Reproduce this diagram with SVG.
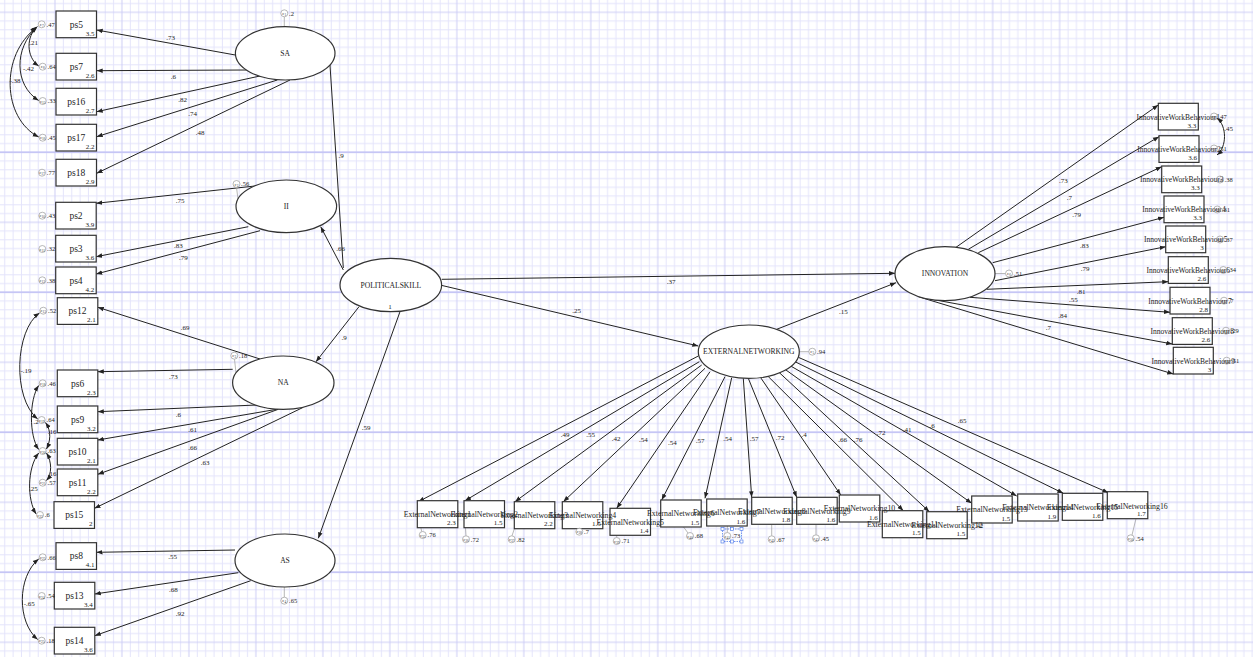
<svg xmlns="http://www.w3.org/2000/svg" width="1253" height="657" viewBox="0 0 1253 657">
<defs>
<style>
.t{font-family:"Liberation Serif","DejaVu Serif",serif;fill:#222}
.lab{font-size:9.5px;text-anchor:middle}
.val{font-size:7px;text-anchor:end}
.co{font-size:7px;text-anchor:middle}
.lat{font-size:7.6px;text-anchor:middle}
.obs{font-size:7.8px;text-anchor:middle}
.iwb{font-size:7.5px;text-anchor:middle}
.ev{font-size:6.5px}
.eps{font-size:5px;text-anchor:middle;fill:#444}
.bx{fill:#fff;stroke:#333;stroke-width:1.2}
.bxo{fill:none;stroke:#333;stroke-width:1.2}
.pl{fill:#fff;stroke:none}
.el{fill:#fff;stroke:#333;stroke-width:1.2}
.ec{fill:#fff;stroke:#999;stroke-width:0.7}
.ect{fill:none;stroke:#999;stroke-width:0.7}
.eline{stroke:#999;stroke-width:0.7;fill:none}
.ln{stroke:#222;stroke-width:1;fill:none;marker-end:url(#a)}
.cv{stroke:#222;stroke-width:1;fill:none;marker-start:url(#a);marker-end:url(#a)}
.gmin{stroke:#e4e4fb;stroke-width:1}
.gmaj{stroke:#cdcdf6;stroke-width:1}
</style>
<marker id="a" viewBox="0 0 10 10" refX="10" refY="5" markerWidth="6" markerHeight="6" markerUnits="userSpaceOnUse" orient="auto-start-reverse"><path d="M0,1.2 L10,5 L0,8.8 z" fill="#222"/></marker>
<pattern id="grid" patternUnits="userSpaceOnUse" x="54.95" y="12.3" width="66.98" height="70">
<path class="gmin" d="M8.37,0V70M16.75,0V70M25.12,0V70M33.49,0V70M41.86,0V70M50.24,0V70M58.61,0V70M0,8.75H66.98M0,17.5H66.98M0,26.25H66.98M0,35H66.98M0,43.75H66.98M0,52.5H66.98M0,61.25H66.98"/>
<path class="gmaj" d="M0,0V70M66.98,0V70M0,0H66.98M0,70H66.98"/>
</pattern>
</defs>
<rect width="1253" height="657" fill="#fff"/>
<rect width="1253" height="657" fill="url(#grid)"/>
<path d="M0,152.3H1253M0,292.3H1253M0,432.3H1253M0,572.3H1253" stroke="#c6c6f5" stroke-width="1.4"/>

<g id="connectors">
<path class="ln" d="M235.3,55 L96.7,30"/>
<path class="ln" d="M246.4,70 L96.7,70.7"/>
<path class="ln" d="M260,76 L96.7,111.7"/>
<path class="ln" d="M277.3,80 L96.7,136.7"/>
<path class="ln" d="M290,80 L96.7,173.3"/>
<path class="ln" d="M255,186 L96.2,203.3"/>
<path class="ln" d="M248.3,226.7 L96.2,256.7"/>
<path class="ln" d="M260,230.7 L96.2,274"/>
<path class="ln" d="M260,359 L97.8,307.3"/>
<path class="ln" d="M232.7,369.3 L97.8,371.7"/>
<path class="ln" d="M256.7,405 L97.8,411.7"/>
<path class="ln" d="M276.7,409.3 L97.8,440"/>
<path class="ln" d="M278.3,409.3 L97.8,474.3"/>
<path class="ln" d="M303.3,407.3 L94.5,508.3"/>
<path class="ln" d="M235,550 L96.5,552.3"/>
<path class="ln" d="M238.3,572.7 L94.8,594"/>
<path class="ln" d="M250.7,580.7 L94.8,635.7"/>
<path class="ln" d="M343.3,268 L328.3,39.3"/>
<path class="ln" d="M343.3,270 L320.7,226.7"/>
<path class="ln" d="M359,306.7 L316,361.7"/>
<path class="ln" d="M400,311.7 L318.3,538.3"/>
<path class="ln" d="M441.7,279.3 L895,273.3"/>
<path class="ln" d="M440,285 L698.3,346"/>
<path class="ln" d="M776.7,329.3 L896,282.7"/>
<path class="ln" d="M956,247.3 L1158.3,105"/>
<path class="ln" d="M968.3,249.3 L1159,136.7"/>
<path class="ln" d="M978.3,252.7 L1161.7,166.7"/>
<path class="ln" d="M992.7,262.7 L1164,217.3"/>
<path class="ln" d="M995,280.7 L1165.7,246.7"/>
<path class="ln" d="M986.7,289.3 L1168.3,281.7"/>
<path class="ln" d="M970,297.3 L1170,312.3"/>
<path class="ln" d="M926.7,298.3 L1172.3,344"/>
<path class="ln" d="M918.3,296.7 L1173.3,374"/>
<path class="ln" d="M698.3,356 L418.3,501.7"/>
<path class="ln" d="M699.3,361.7 L465,500.7"/>
<path class="ln" d="M701.7,365 L515,501.7"/>
<path class="ln" d="M705,368.3 L563.3,501.7"/>
<path class="ln" d="M710,371.7 L616.7,508.3"/>
<path class="ln" d="M725,376.7 L661.7,500"/>
<path class="ln" d="M731.7,377.7 L705,498.3"/>
<path class="ln" d="M743.3,378.3 L751.7,497.3"/>
<path class="ln" d="M748.3,378.3 L796.7,497.3"/>
<path class="ln" d="M760,376.7 L840.7,495"/>
<path class="ln" d="M766.7,375 L903.3,510.7"/>
<path class="ln" d="M778.3,371.7 L929.3,511.7"/>
<path class="ln" d="M785,369.3 L971.7,503.3"/>
<path class="ln" d="M790.7,366 L1016.7,496"/>
<path class="ln" d="M795,361.7 L1063.3,493.3"/>
<path class="ln" d="M798.3,357.3 L1108.3,492.7"/>
<path class="cv" d="M37.5,26.5 C26,36 26,57 38.7,66"/>
<path class="cv" d="M37,27 C14,48 14,85 38.7,100.5"/>
<path class="cv" d="M36.5,27.5 C0,55 2,118 38.7,137"/>
<path class="cv" d="M39.5,313 C15,330 12,398 37.7,419"/>
<path class="cv" d="M38.7,385.5 C29,400 29,436 38.7,449.5"/>
<path class="cv" d="M45.5,422.5 C52,432 50,442 46.5,449"/>
<path class="cv" d="M46.5,453 C52,462 52,474 46.5,480.5"/>
<path class="cv" d="M38.7,453 C27,468 27,500 36.2,514"/>
<path class="cv" d="M38.7,559 C17,577 17,622 37.7,639.5"/>
<path class="cv" d="M1217,118 C1227,126 1227,147 1217,155"/>
<path class="eline" d="M284.3,16.8V26.7M236.5,187.5L238,199M234.5,359.2L236,373M284.3,587V597.2M799.3,351.7H808.8M995,273.5H1005.5M418.3,515L421.7,531.7M465,520L466,535.8M514.5,528.3L512,535.8M616.7,535V537.5M683.3,526.7L688,533M727.3,526V532.5M771.7,524.3V535.8M816,524.3V534.8M1138.3,509.3L1132,535"/>
</g>

<g id="coef-labels" class="t co">
<text x="170.7" y="39.5">.73</text>
<text x="173.3" y="79">.6</text>
<text x="182.7" y="102.3">.82</text>
<text x="192.7" y="115.6">.74</text>
<text x="200" y="135">.48</text>
<text x="180" y="203">.75</text>
<text x="178.3" y="248.3">.83</text>
<text x="183.3" y="259.6">.79</text>
<text x="185" y="329.6">.69</text>
<text x="173.3" y="379">.73</text>
<text x="178.3" y="416.6">.6</text>
<text x="192.7" y="432.3">.61</text>
<text x="192.7" y="450">.66</text>
<text x="205" y="464.6">.63</text>
<text x="172.7" y="559">.55</text>
<text x="173.3" y="592.3">.68</text>
<text x="180" y="616.3">.92</text>
<text x="341" y="158.3">.9</text>
<text x="340.5" y="251.3">.66</text>
<text x="344" y="339.6">.9</text>
<text x="366" y="430.3">.59</text>
<text x="671" y="284">.37</text>
<text x="576.7" y="313.3">.25</text>
<text x="843.3" y="314">.15</text>
<text x="1063.3" y="183">.73</text>
<text x="1069.3" y="199.6">.7</text>
<text x="1076.7" y="217.3">.79</text>
<text x="1084.3" y="248.3">.83</text>
<text x="1085" y="271.3">.79</text>
<text x="1081" y="293.6">.81</text>
<text x="1073.3" y="301.6">.55</text>
<text x="1062.7" y="318">.84</text>
<text x="1048.3" y="330">.7</text>
<text x="565" y="437.3">.49</text>
<text x="590.7" y="437.3">.55</text>
<text x="616" y="440.6">.42</text>
<text x="643.3" y="441.6">.54</text>
<text x="672.3" y="444.6">.54</text>
<text x="700" y="443">.57</text>
<text x="727.7" y="441.3">.54</text>
<text x="754" y="440.6">.57</text>
<text x="780" y="439.6">.72</text>
<text x="804" y="437.3">.4</text>
<text x="842.7" y="442.3">.66</text>
<text x="858" y="442.3">.76</text>
<text x="881" y="435.3">.72</text>
<text x="907" y="431.6">.41</text>
<text x="932" y="427.6">.6</text>
<text x="962" y="423">.65</text>
<text x="33.5" y="45">.21</text>
<text x="28.5" y="71.3">-.42</text>
<text x="15" y="83.3">-.38</text>
<text x="26" y="373">-.19</text>
<text x="36" y="424">.2</text>
<text x="52" y="434">.16</text>
<text x="52" y="475.6">.16</text>
<text x="33.3" y="490.6">.25</text>
<text x="29.3" y="605.6">-.65</text>
<text x="1228.5" y="130.6">.45</text>
</g>

<g id="SA"><ellipse class="el" cx="285.2" cy="53.3" rx="49.8" ry="26.7"/><text class="t lat" x="285.2" y="56">SA</text>
<circle class="ec" cx="284.3" cy="13.3" r="3.5"/><text class="t eps" x="284.3" y="15">ε<tspan font-size="3.5" dy="1">1</tspan></text><text class="t ev" x="289" y="15.6">.2</text></g>
<g id="II"><ellipse class="el" cx="286.3" cy="206.3" rx="50.3" ry="26.3"/><text class="t lat" x="286.3" y="209">II</text>
<circle class="ec" cx="236.5" cy="184" r="3.5"/><text class="t eps" x="236.5" y="185.7">ε<tspan font-size="3.5" dy="1">2</tspan></text><text class="t ev" x="241" y="186.3">.56</text></g>
<g id="NA"><ellipse class="el" cx="283.3" cy="382.7" rx="50.7" ry="26.7"/><text class="t lat" x="283.3" y="385.4">NA</text>
<circle class="ec" cx="234.3" cy="355.7" r="3.5"/><text class="t eps" x="234.3" y="357.4">ε<tspan font-size="3.5" dy="1">3</tspan></text><text class="t ev" x="239" y="358">.18</text></g>
<g id="AS"><ellipse class="el" cx="285" cy="560.5" rx="50" ry="26.5"/><text class="t lat" x="285" y="563.2">AS</text>
<circle class="ec" cx="284.3" cy="600.7" r="3.5"/><text class="t eps" x="284.3" y="602.4">ε<tspan font-size="3.5" dy="1">4</tspan></text><text class="t ev" x="289" y="603">.65</text></g>
<g id="POLITICALSKILL"><ellipse class="el" cx="390.8" cy="285" rx="50.8" ry="26.7"/><text class="t lat" x="390.8" y="288">POLITICALSKILL</text><text class="t co" x="390" y="308.5">1</text></g>
<g id="EXTERNALNETWORKING"><ellipse class="el" cx="748.8" cy="351.7" rx="50.5" ry="26.7"/><text class="t lat" x="748.8" y="354.4">EXTERNALNETWORKING</text>
<circle class="ec" cx="812.3" cy="351.7" r="3.5"/><text class="t eps" x="812.3" y="353.4">ε<tspan font-size="3.5" dy="1">5</tspan></text><text class="t ev" x="817" y="354">.94</text></g>
<g id="INNOVATION"><ellipse class="el" cx="945" cy="273.7" rx="50" ry="27"/><text class="t lat" x="945" y="276.4">INNOVATION</text>
<circle class="ec" cx="1009" cy="273.5" r="3.5"/><text class="t eps" x="1009" y="275.2">ε<tspan font-size="3.5" dy="1">6</tspan></text><text class="t ev" x="1014" y="275.8">.51</text></g>

<g id="ps5"><rect class="bx" x="56" y="11" width="40.5" height="26.7"/><text class="t lab" x="76.3" y="27.6">ps5</text><text class="t val" x="94.5" y="35.5">3.5</text><circle class="ec" cx="41.7" cy="24.3" r="3.5"/><text class="t eps" x="41.7" y="26">ε<tspan font-size="3.5" dy="1">7</tspan></text><text class="t ev" x="46.5" y="26.6">.47</text></g>
<g id="ps7"><rect class="bx" x="56" y="53.3" width="40.5" height="26.7"/><text class="t lab" x="76.3" y="69.9">ps7</text><text class="t val" x="94.5" y="77.8">2.6</text><circle class="ec" cx="42.7" cy="66.7" r="3.5"/><text class="t eps" x="42.7" y="68.4">ε<tspan font-size="3.5" dy="1">8</tspan></text><text class="t ev" x="47.5" y="69">.64</text></g>
<g id="ps16"><rect class="bx" x="56" y="88.3" width="40.5" height="26.7"/><text class="t lab" x="76.3" y="104.9">ps16</text><text class="t val" x="94.5" y="112.8">2.7</text><circle class="ec" cx="42.7" cy="101" r="3.5"/><text class="t eps" x="42.7" y="102.7">ε<tspan font-size="3.5" dy="1">15</tspan></text><text class="t ev" x="47.5" y="103.3">.33</text></g>
<g id="ps17"><rect class="bx" x="56" y="124.3" width="40.5" height="26.7"/><text class="t lab" x="76.3" y="140.9">ps17</text><text class="t val" x="94.5" y="148.8">2.2</text><circle class="ec" cx="42.7" cy="137.7" r="3.5"/><text class="t eps" x="42.7" y="139.4">ε<tspan font-size="3.5" dy="1">16</tspan></text><text class="t ev" x="47.5" y="140">.45</text></g>
<g id="ps18"><rect class="bx" x="56" y="159.3" width="40.5" height="26.7"/><text class="t lab" x="76.3" y="175.9">ps18</text><text class="t val" x="94.5" y="183.8">2.9</text><circle class="ec" cx="42" cy="172.7" r="3.5"/><text class="t eps" x="42" y="174.4">ε<tspan font-size="3.5" dy="1">17</tspan></text><text class="t ev" x="46.8" y="175">.77</text></g>
<g id="ps2"><rect class="bx" x="55.7" y="202.3" width="40.5" height="26.7"/><text class="t lab" x="76" y="218.9">ps2</text><text class="t val" x="94.2" y="226.8">3.9</text><circle class="ec" cx="42.3" cy="215.7" r="3.5"/><text class="t eps" x="42.3" y="217.4">ε<tspan font-size="3.5" dy="1">10</tspan></text><text class="t ev" x="47" y="218">.43</text></g>
<g id="ps3"><rect class="bx" x="55.7" y="235.3" width="40.5" height="26.7"/><text class="t lab" x="76" y="251.9">ps3</text><text class="t val" x="94.2" y="259.8">3.6</text><circle class="ec" cx="42.3" cy="249" r="3.5"/><text class="t eps" x="42.3" y="250.7">ε<tspan font-size="3.5" dy="1">11</tspan></text><text class="t ev" x="47" y="251.3">.32</text></g>
<g id="ps4"><rect class="bx" x="55.7" y="267" width="40.5" height="26.7"/><text class="t lab" x="76" y="283.6">ps4</text><text class="t val" x="94.2" y="291.5">4.2</text><circle class="ec" cx="42.3" cy="280.3" r="3.5"/><text class="t eps" x="42.3" y="282">ε<tspan font-size="3.5" dy="1">12</tspan></text><text class="t ev" x="47" y="282.6">.38</text></g>
<g id="ps12"><rect class="bx" x="57.3" y="297.7" width="40.5" height="26.7"/><text class="t lab" x="77.6" y="314.3">ps12</text><text class="t val" x="95.8" y="322.2">2.1</text><circle class="ec" cx="43.3" cy="310.7" r="3.5"/><text class="t eps" x="43.3" y="312.4">ε<tspan font-size="3.5" dy="1">13</tspan></text><text class="t ev" x="48" y="313">.52</text></g>
<g id="ps6"><rect class="bx" x="57.3" y="370" width="40.5" height="26.7"/><text class="t lab" x="77.6" y="386.6">ps6</text><text class="t val" x="95.8" y="394.5">2.3</text><circle class="ec" cx="42.7" cy="383.3" r="3.5"/><text class="t eps" x="42.7" y="385">ε<tspan font-size="3.5" dy="1">18</tspan></text><text class="t ev" x="47.5" y="385.6">.46</text></g>
<g id="ps9"><rect class="bx" x="57.3" y="406" width="40.5" height="26.7"/><text class="t lab" x="77.6" y="422.6">ps9</text><text class="t val" x="95.8" y="430.5">3.2</text><circle class="ec" cx="41.7" cy="420" r="3.5"/><text class="t eps" x="41.7" y="421.7">ε<tspan font-size="3.5" dy="1">19</tspan></text><text class="t ev" x="46.5" y="422.3">.64</text></g>
<g id="ps10"><rect class="bx" x="57.3" y="438.3" width="40.5" height="26.7"/><text class="t lab" x="77.6" y="454.9">ps10</text><text class="t val" x="95.8" y="462.8">2.1</text><circle class="ec" cx="42.7" cy="451" r="3.5"/><text class="t eps" x="42.7" y="452.7">ε<tspan font-size="3.5" dy="1">20</tspan></text><text class="t ev" x="47.5" y="453.3">.63</text></g>
<g id="ps11"><rect class="bx" x="57.3" y="469" width="40.5" height="26.7"/><text class="t lab" x="77.6" y="485.6">ps11</text><text class="t val" x="95.8" y="493.5">2.2</text><circle class="ec" cx="42.7" cy="482.7" r="3.5"/><text class="t eps" x="42.7" y="484.4">ε<tspan font-size="3.5" dy="1">21</tspan></text><text class="t ev" x="47.5" y="485">.57</text></g>
<g id="ps15"><rect class="bx" x="54" y="501.7" width="40.5" height="26.7"/><text class="t lab" x="74.3" y="518.3">ps15</text><text class="t val" x="92.5" y="526.2">2</text><circle class="ec" cx="40" cy="515" r="3.5"/><text class="t eps" x="40" y="516.7">ε<tspan font-size="3.5" dy="1">22</tspan></text><text class="t ev" x="44.8" y="517.3">.6</text></g>
<g id="ps8"><rect class="bx" x="56" y="542.7" width="40.5" height="26.7"/><text class="t lab" x="76.3" y="559.3">ps8</text><text class="t val" x="94.5" y="567.2">4.1</text><circle class="ec" cx="42.7" cy="557.3" r="3.5"/><text class="t eps" x="42.7" y="559">ε<tspan font-size="3.5" dy="1">23</tspan></text><text class="t ev" x="47.5" y="559.6">.66</text></g>
<g id="ps13"><rect class="bx" x="54.3" y="582.3" width="40.5" height="26.7"/><text class="t lab" x="74.6" y="598.9">ps13</text><text class="t val" x="92.8" y="606.8">3.4</text><circle class="ec" cx="41.7" cy="596" r="3.5"/><text class="t eps" x="41.7" y="597.7">ε<tspan font-size="3.5" dy="1">24</tspan></text><text class="t ev" x="46.5" y="598.3">.54</text></g>
<g id="ps14"><rect class="bx" x="54.3" y="627.3" width="40.5" height="26.7"/><text class="t lab" x="74.6" y="643.9">ps14</text><text class="t val" x="92.8" y="651.8">3.6</text><circle class="ec" cx="41.7" cy="640.7" r="3.5"/><text class="t eps" x="41.7" y="642.4">ε<tspan font-size="3.5" dy="1">25</tspan></text><text class="t ev" x="46.5" y="643">.18</text></g>

<g id="IWB1"><rect class="bx" x="1158.3" y="103.3" width="40" height="26.7"/><text class="t iwb" x="1178.3" y="119.5">InnovativeWorkBehaviour1</text><text class="t val" x="1196.3" y="127.5">3.3</text><circle class="ect" cx="1214" cy="116.5" r="3.5"/><text class="t eps" x="1214" y="118.2">ε<tspan font-size="3.5" dy="1">26</tspan></text><text class="t ev" x="1218.5" y="118.8">.47</text></g>
<g id="IWB2"><rect class="bx" x="1159" y="135.7" width="40" height="26.7"/><text class="t iwb" x="1179" y="151.9">InnovativeWorkBehaviour2</text><text class="t val" x="1197" y="159.9">3.6</text><circle class="ect" cx="1214" cy="148.5" r="3.5"/><text class="t eps" x="1214" y="150.2">ε<tspan font-size="3.5" dy="1">27</tspan></text><text class="t ev" x="1218.5" y="150.8">.51</text></g>
<g id="IWB3"><rect class="bx" x="1161.7" y="166" width="40" height="26.7"/><text class="t iwb" x="1181.7" y="182.2">InnovativeWorkBehaviour3</text><text class="t val" x="1199.7" y="190.2">3.3</text><circle class="ect" cx="1220" cy="179.5" r="3.5"/><text class="t eps" x="1220" y="181.2">ε<tspan font-size="3.5" dy="1">28</tspan></text><text class="t ev" x="1224.5" y="181.8">.38</text></g>
<g id="IWB4"><rect class="bx" x="1164" y="196" width="40" height="26.7"/><text class="t iwb" x="1184" y="212.2">InnovativeWorkBehaviour4</text><text class="t val" x="1202" y="220.2">3.3</text><circle class="ect" cx="1217.3" cy="209.5" r="3.5"/><text class="t eps" x="1217.3" y="211.2">ε<tspan font-size="3.5" dy="1">29</tspan></text><text class="t ev" x="1221.8" y="211.8">.31</text></g>
<g id="IWB5"><rect class="bx" x="1165.7" y="226" width="40" height="26.7"/><text class="t iwb" x="1185.7" y="242.2">InnovativeWorkBehaviour5</text><text class="t val" x="1203.7" y="250.2">3</text><circle class="ect" cx="1220" cy="239.5" r="3.5"/><text class="t eps" x="1220" y="241.2">ε<tspan font-size="3.5" dy="1">30</tspan></text><text class="t ev" x="1224.5" y="241.8">.37</text></g>
<g id="IWB6"><rect class="bx" x="1168.3" y="256.7" width="40" height="26.7"/><text class="t iwb" x="1188.3" y="272.9">InnovativeWorkBehaviour6</text><text class="t val" x="1206.3" y="280.9">2.6</text><circle class="ect" cx="1223.3" cy="270" r="3.5"/><text class="t eps" x="1223.3" y="271.7">ε<tspan font-size="3.5" dy="1">31</tspan></text><text class="t ev" x="1227.8" y="272.3">.34</text></g>
<g id="IWB7"><rect class="bx" x="1170" y="287.3" width="40" height="26.7"/><text class="t iwb" x="1190" y="303.5">InnovativeWorkBehaviour7</text><text class="t val" x="1208" y="311.5">2.8</text><circle class="ect" cx="1224" cy="300.7" r="3.5"/><text class="t eps" x="1224" y="302.4">ε<tspan font-size="3.5" dy="1">32</tspan></text><text class="t ev" x="1228.5" y="303">.7</text></g>
<g id="IWB8"><rect class="bx" x="1172.3" y="317.7" width="40" height="26.7"/><text class="t iwb" x="1192.3" y="333.9">InnovativeWorkBehaviour8</text><text class="t val" x="1210.3" y="341.9">2.6</text><circle class="ect" cx="1226" cy="330.7" r="3.5"/><text class="t eps" x="1226" y="332.4">ε<tspan font-size="3.5" dy="1">33</tspan></text><text class="t ev" x="1230.5" y="333">.29</text></g>
<g id="IWB9"><rect class="bx" x="1173.3" y="347.3" width="40" height="26.7"/><text class="t iwb" x="1193.3" y="363.5">InnovativeWorkBehaviour9</text><text class="t val" x="1211.3" y="371.5">3</text><circle class="ect" cx="1226.7" cy="360.7" r="3.5"/><text class="t eps" x="1226.7" y="362.4">ε<tspan font-size="3.5" dy="1">34</tspan></text><text class="t ev" x="1231.2" y="363">.51</text></g>

<g id="en-plates" class="pl">
<rect x="417.3" y="500.7" width="40.5" height="27"/><rect x="464" y="500.7" width="40.5" height="27"/><rect x="514.3" y="501.7" width="40.5" height="27"/><rect x="562.3" y="501.7" width="40.5" height="27"/><rect x="610" y="508.3" width="40.5" height="27"/><rect x="660.7" y="500" width="40.5" height="27"/><rect x="706.7" y="499" width="40.5" height="27"/><rect x="751.7" y="497.3" width="40.5" height="27"/><rect x="796.7" y="497.3" width="40.5" height="27"/><rect x="839.3" y="495" width="40.5" height="27"/><rect x="882.3" y="510.7" width="40.5" height="27"/><rect x="926.7" y="511.7" width="40.5" height="27"/><rect x="971.7" y="496" width="40.5" height="27"/><rect x="1017.7" y="494" width="40.5" height="27"/><rect x="1062.3" y="493.3" width="40.5" height="27"/><rect x="1107.3" y="491.7" width="40.5" height="27"/>
</g>
<g id="EN1"><rect class="bxo" x="417.3" y="500.7" width="40.5" height="27"/><text class="t obs" x="437.5" y="516.9">ExternalNetworking1</text><text class="t val" x="455.8" y="525.3">2.3</text><circle class="ec" cx="422.7" cy="535" r="3.5"/><text class="t eps" x="422.7" y="536.7">ε<tspan font-size="3.5" dy="1">35</tspan></text><text class="t ev" x="427.5" y="537.3">.76</text></g>
<g id="EN2"><rect class="bxo" x="464" y="500.7" width="40.5" height="27"/><text class="t obs" x="484.2" y="516.9">ExternalNetworking2</text><text class="t val" x="502.5" y="525.3">1.5</text><circle class="ec" cx="466" cy="539.3" r="3.5"/><text class="t eps" x="466" y="541">ε<tspan font-size="3.5" dy="1">36</tspan></text><text class="t ev" x="470.8" y="541.6">.72</text></g>
<g id="EN3"><rect class="bxo" x="514.3" y="501.7" width="40.5" height="27"/><text class="t obs" x="534.5" y="517.9">ExternalNetworking3</text><text class="t val" x="552.8" y="526.3">2.2</text><circle class="ec" cx="511.7" cy="539.3" r="3.5"/><text class="t eps" x="511.7" y="541">ε<tspan font-size="3.5" dy="1">37</tspan></text><text class="t ev" x="516.5" y="541.6">.82</text></g>
<g id="EN4"><rect class="bxo" x="562.3" y="501.7" width="40.5" height="27"/><text class="t obs" x="582.5" y="517.9">ExternalNetworking4</text><text class="t val" x="600.8" y="526.3">1.5</text><circle class="ec" cx="579.3" cy="531.7" r="3.5"/><text class="t eps" x="579.3" y="533.4">ε<tspan font-size="3.5" dy="1">38</tspan></text><text class="t ev" x="584" y="534">.7</text></g>
<g id="EN5"><rect class="bxo" x="610" y="508.3" width="40.5" height="27"/><text class="t obs" x="630.2" y="524.5">ExternalNetworking5</text><text class="t val" x="648.5" y="532.9">1.4</text><circle class="ec" cx="616.7" cy="541" r="3.5"/><text class="t eps" x="616.7" y="542.7">ε<tspan font-size="3.5" dy="1">39</tspan></text><text class="t ev" x="621.5" y="543.3">.71</text></g>
<g id="EN6"><rect class="bxo" x="660.7" y="500" width="40.5" height="27"/><text class="t obs" x="680.9" y="516.2">ExternalNetworking6</text><text class="t val" x="699.2" y="524.6">1.5</text><circle class="ec" cx="690" cy="536" r="3.5"/><text class="t eps" x="690" y="537.7">ε<tspan font-size="3.5" dy="1">40</tspan></text><text class="t ev" x="694.8" y="538.3">.68</text></g>
<g id="EN7"><rect class="bxo" x="706.7" y="499" width="40.5" height="27"/><text class="t obs" x="726.9" y="515.2">ExternalNetworking7</text><text class="t val" x="745.2" y="523.6">1.6</text><circle class="ec" cx="727.3" cy="536" r="3.5"/><text class="t eps" x="727.3" y="537.7">ε<tspan font-size="3.5" dy="1">41</tspan></text><text class="t ev" x="732" y="538.3">.73</text>
<rect x="722.5" y="529" width="19" height="12.5" fill="none" stroke="#3f6fe8" stroke-width="0.7" stroke-dasharray="1.5,1"/>
<g fill="#fff" stroke="#3f6fe8" stroke-width="0.6"><rect x="721" y="527.5" width="3" height="3"/><rect x="730.5" y="527.5" width="3" height="3"/><rect x="740" y="527.5" width="3" height="3"/><rect x="721" y="540" width="3" height="3"/><rect x="730.5" y="540" width="3" height="3"/><rect x="740" y="540" width="3" height="3"/></g></g>
<g id="EN8"><rect class="bxo" x="751.7" y="497.3" width="40.5" height="27"/><text class="t obs" x="771.9" y="513.5">ExternalNetworking8</text><text class="t val" x="790.2" y="521.9">1.8</text><circle class="ec" cx="771.7" cy="539.3" r="3.5"/><text class="t eps" x="771.7" y="541">ε<tspan font-size="3.5" dy="1">42</tspan></text><text class="t ev" x="776.5" y="541.6">.67</text></g>
<g id="EN9"><rect class="bxo" x="796.7" y="497.3" width="40.5" height="27"/><text class="t obs" x="816.9" y="513.5">ExternalNetworking9</text><text class="t val" x="835.2" y="521.9">1.6</text><circle class="ec" cx="816" cy="538.3" r="3.5"/><text class="t eps" x="816" y="540">ε<tspan font-size="3.5" dy="1">43</tspan></text><text class="t ev" x="820.8" y="540.6">.45</text></g>
<g id="EN10"><rect class="bxo" x="839.3" y="495" width="40.5" height="27"/><text class="t obs" x="859.5" y="511.2">ExternalNetworking10</text><text class="t val" x="877.8" y="519.6">1.6</text></g>
<g id="EN11"><rect class="bxo" x="882.3" y="510.7" width="40.5" height="27"/><text class="t obs" x="902.5" y="526.9">ExternalNetworking11</text><text class="t val" x="920.8" y="535.3">1.5</text></g>
<g id="EN12"><rect class="bxo" x="926.7" y="511.7" width="40.5" height="27"/><text class="t obs" x="946.9" y="527.9">ExternalNetworking12</text><text class="t val" x="965.2" y="536.3">1.5</text><text class="t ev" x="975" y="528">.42</text></g>
<g id="EN13"><rect class="bxo" x="971.7" y="496" width="40.5" height="27"/><text class="t obs" x="991.9" y="512.2">ExternalNetworking13</text><text class="t val" x="1010.2" y="520.6">1.5</text></g>
<g id="EN14"><rect class="bxo" x="1017.7" y="494" width="40.5" height="27"/><text class="t obs" x="1037.9" y="510.2">ExternalNetworking14</text><text class="t val" x="1056.2" y="518.6">1.9</text></g>
<g id="EN15"><rect class="bxo" x="1062.3" y="493.3" width="40.5" height="27"/><text class="t obs" x="1082.5" y="509.5">ExternalNetworking15</text><text class="t val" x="1100.8" y="517.9">1.6</text></g>
<g id="EN16"><rect class="bxo" x="1107.3" y="491.7" width="40.5" height="27"/><text class="t obs" x="1132" y="508.5">ExternalNetworking16</text><text class="t val" x="1145.8" y="516.3">1.7</text><circle class="ec" cx="1130.7" cy="538.3" r="3.5"/><text class="t eps" x="1130.7" y="540">ε<tspan font-size="3.5" dy="1">50</tspan></text><text class="t ev" x="1135.5" y="540.6">.54</text></g>
</svg>
